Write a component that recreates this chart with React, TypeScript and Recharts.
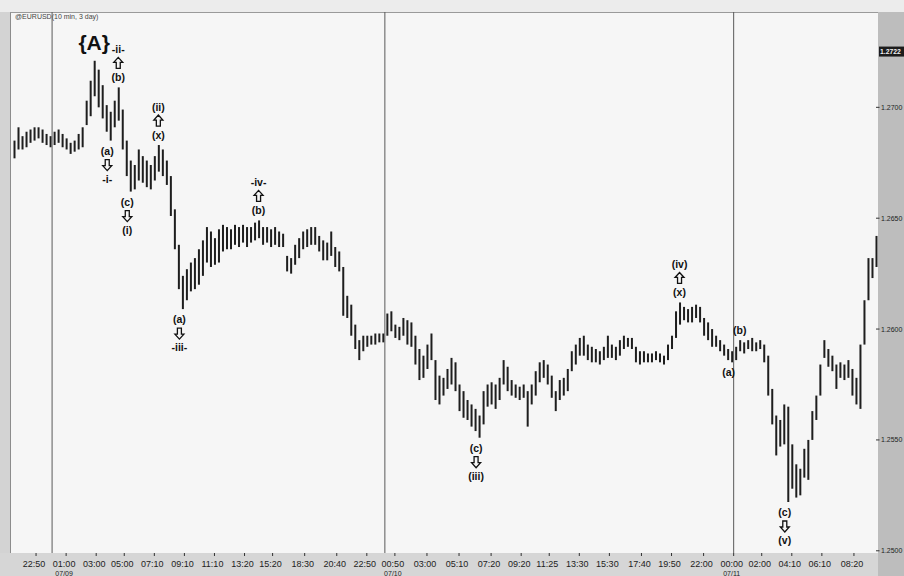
import React from 'react';
import { ComposedChart, Bar, Scatter, XAxis, YAxis, ReferenceLine } from 'recharts';

// EUR/USD 10 min, 3 day — bar highs / lows (one entry per bar)
const highs = [
  1.2685, 1.2691, 1.2687, 1.2689, 1.2690, 1.2691, 1.2691, 1.2690, 1.2688, 1.2687,
  1.2689, 1.2690, 1.2688, 1.2686, 1.2684, 1.2685, 1.2688, 1.2691, 1.2703, 1.2712,
  1.2721, 1.2717, 1.2710, 1.2701, 1.2698, 1.2703, 1.2709, 1.2699, 1.2685, 1.2676,
  1.2674, 1.2681, 1.2678, 1.2676, 1.2674, 1.2678, 1.2683, 1.2681, 1.2676, 1.2669,
  1.2654, 1.2638, 1.2624, 1.2627, 1.2630, 1.2632, 1.2636, 1.2640, 1.2646, 1.2644,
  1.2641, 1.2645, 1.2647, 1.2646, 1.2645, 1.2647, 1.2646, 1.2647, 1.2646, 1.2646,
  1.2648, 1.2649, 1.2646, 1.2646, 1.2645, 1.2646, 1.2644, 1.2643, 1.2633, 1.2632,
  1.2638, 1.2641, 1.2644, 1.2645, 1.2646, 1.2646, 1.2642, 1.2640, 1.2639, 1.2644,
  1.2637, 1.2635, 1.2628, 1.2615, 1.2611, 1.2602, 1.2595, 1.2597, 1.2597, 1.2597,
  1.2598, 1.2598, 1.2598, 1.2607, 1.2608, 1.2602, 1.2601, 1.2605, 1.2604, 1.2603,
  1.2597, 1.2591, 1.2588, 1.2593, 1.2598, 1.2586, 1.2579, 1.2578, 1.2582, 1.2587,
  1.2585, 1.2575, 1.2572, 1.2568, 1.2566, 1.2564, 1.2561, 1.2572, 1.2575, 1.2576,
  1.2575, 1.2578, 1.2586, 1.2583, 1.2577, 1.2575, 1.2574, 1.2575, 1.2572, 1.2575,
  1.2581, 1.2585, 1.2586, 1.2584, 1.2579, 1.2572, 1.2577, 1.2578, 1.2582, 1.2590,
  1.2593, 1.2596, 1.2597, 1.2593, 1.2592, 1.2591, 1.2590, 1.2592, 1.2597, 1.2593,
  1.2592, 1.2595, 1.2597, 1.2596, 1.2596, 1.2592, 1.2590, 1.2590, 1.2589, 1.2589,
  1.2590, 1.2589, 1.2588, 1.2593, 1.2597, 1.2608, 1.2612, 1.2610, 1.2609, 1.2610,
  1.2611, 1.2610, 1.2605, 1.2603, 1.2600, 1.2597, 1.2595, 1.2593, 1.2591, 1.2590,
  1.2592, 1.2595, 1.2594, 1.2595, 1.2596, 1.2594, 1.2595, 1.2593, 1.2588, 1.2573,
  1.2561, 1.2559, 1.2566, 1.2565, 1.2548, 1.2539, 1.2537, 1.2546, 1.2550, 1.2563,
  1.2570, 1.2584, 1.2595, 1.2591, 1.2588, 1.2584, 1.2585, 1.2584, 1.2586, 1.2582,
  1.2578, 1.2593, 1.2613, 1.2632, 1.2632, 1.2642,
];

const lows = [
  1.2677, 1.2681, 1.2681, 1.2682, 1.2684, 1.2685, 1.2686, 1.2684, 1.2683, 1.2682,
  1.2683, 1.2684, 1.2682, 1.2681, 1.2679, 1.2680, 1.2681, 1.2682, 1.2692, 1.2696,
  1.2705, 1.2700, 1.2695, 1.2689, 1.2685, 1.2691, 1.2694, 1.2681, 1.2669, 1.2662,
  1.2663, 1.2667, 1.2666, 1.2664, 1.2663, 1.2667, 1.2671, 1.2669, 1.2665, 1.2651,
  1.2636, 1.2618, 1.2609, 1.2613, 1.2617, 1.2618, 1.2620, 1.2624, 1.2630, 1.2628,
  1.2629, 1.2630, 1.2635, 1.2636, 1.2636, 1.2638, 1.2637, 1.2639, 1.2637, 1.2639,
  1.2640, 1.2641, 1.2638, 1.2639, 1.2637, 1.2638, 1.2637, 1.2637, 1.2626, 1.2625,
  1.2629, 1.2632, 1.2636, 1.2637, 1.2638, 1.2638, 1.2635, 1.2631, 1.2631, 1.2633,
  1.2628, 1.2626, 1.2606, 1.2605, 1.2597, 1.2591, 1.2586, 1.2590, 1.2592, 1.2593,
  1.2593, 1.2594, 1.2594, 1.2597, 1.2599, 1.2596, 1.2595, 1.2597, 1.2593, 1.2592,
  1.2584, 1.2577, 1.2578, 1.2582, 1.2586, 1.2568, 1.2566, 1.2570, 1.2573, 1.2575,
  1.2572, 1.2563, 1.2560, 1.2559, 1.2556, 1.2554, 1.2551, 1.2557, 1.2565, 1.2566,
  1.2564, 1.2568, 1.2575, 1.2572, 1.2570, 1.2569, 1.2568, 1.2569, 1.2556, 1.2566,
  1.2570, 1.2576, 1.2578, 1.2575, 1.2569, 1.2563, 1.2568, 1.2570, 1.2572, 1.2581,
  1.2584, 1.2588, 1.2588, 1.2586, 1.2585, 1.2585, 1.2584, 1.2586, 1.2587, 1.2587,
  1.2586, 1.2588, 1.2591, 1.2592, 1.2591, 1.2585, 1.2584, 1.2585, 1.2585, 1.2585,
  1.2586, 1.2585, 1.2584, 1.2586, 1.2591, 1.2596, 1.2602, 1.2604, 1.2603, 1.2603,
  1.2605, 1.2603, 1.2597, 1.2595, 1.2592, 1.2592, 1.2590, 1.2588, 1.2586, 1.2585,
  1.2586, 1.2590, 1.2589, 1.2591, 1.2590, 1.2590, 1.2591, 1.2585, 1.2570, 1.2557,
  1.2543, 1.2547, 1.2548, 1.2522, 1.2528, 1.2524, 1.2525, 1.2533, 1.2532, 1.2550,
  1.2559, 1.2570, 1.2587, 1.2583, 1.2581, 1.2573, 1.2578, 1.2577, 1.2578, 1.2570,
  1.2566, 1.2564, 1.2593, 1.2613, 1.2623, 1.2628,
];

// time axis: label and the bar it sits on
const timeLabels = [
  '22:50', '01:00', '03:00', '05:00', '07:10', '09:10', '11:10', '13:20', '15:20', '18:30',
  '20:40', '22:50', '00:50', '03:00', '05:10', '07:20', '09:20', '11:25', '13:30', '15:30',
  '17:40', '19:50', '22:00', '00:00', '02:00', '04:10', '06:10', '08:20',
];
const timeTicks = [
  5.5, 13, 20.5, 27.5, 35, 42.5, 50, 57.5, 64.5, 72.5,
  80.5, 88, 95, 103, 111, 119, 126.5, 133.5, 141, 148.5,
  156.5, 164, 172, 179.5, 186.5, 194, 201.5, 209.5,
];
const dateLabels = ['', '07/09', '', '', '', '', '', '', '', '', '', '', '07/10', '', '', '', '', '', '', '', '', '', '', '07/11', '', '', '', ''];
const sessionBreaks = [9.5, 92.5, 179.5];

const priceTicks = [1.25, 1.255, 1.26, 1.265, 1.27];
const sessionHigh = 1.2722;

// Elliott wave annotations, anchored on a bar's high (up) or low (down); '^' / 'v' are hollow arrows
const waveMarks = [
  { bar: 20, side: 'up', lines: ['{A}'], big: true },
  { bar: 26, side: 'up', lines: ['-ii-', '^', '(b)'] },
  { bar: 24, side: 'down', lines: ['(a)', 'v', '-i-'] },
  { bar: 29, side: 'down', lines: ['(c)', 'v', '(i)'] },
  { bar: 36, side: 'up', lines: ['(ii)', '^', '(x)'] },
  { bar: 42, side: 'down', lines: ['(a)', 'v', '-iii-'] },
  { bar: 61, side: 'up', lines: ['-iv-', '^', '(b)'] },
  { bar: 116, side: 'down', lines: ['(c)', 'v', '(iii)'] },
  { bar: 166, side: 'up', lines: ['(iv)', '^', '(x)'] },
  { bar: 181, side: 'up', lines: ['(b)'] },
  { bar: 179, side: 'down', lines: ['(a)'] },
  { bar: 193, side: 'down', lines: ['(c)', 'v', '(v)'] },
];

const FONT = "'Liberation Sans', Arial, 'DejaVu Sans', sans-serif";

const bars = highs.map((h, k) => ({ i: k, range: [lows[k], h] }));
const marks = waveMarks.map((m) => ({
  ...m,
  i: m.bar,
  p: m.side === 'up' ? highs[m.bar] : lows[m.bar],
}));

function OhlcBar(props: any) {
  const { x, y, width, height } = props;
  if (x == null || y == null) return null;
  const top = Math.min(y, y + height);
  const h = Math.max(Math.abs(height), 1);
  return <rect x={x + width / 2 - 1} y={top} width={2} height={h} fill="#1e1e1e" />;
}

function HollowArrow({ x, y, up }: { x: number; y: number; up: boolean }) {
  const s = up ? 1 : -1;
  const pts = [
    [0, -6], [4.5, -1], [2, -1], [2, 5], [-2, 5], [-2, -1], [-4.5, -1],
  ]
    .map(([a, b]) => `${x + a},${y + s * b}`)
    .join(' ');
  return <polygon points={pts} fill="#f6f6f6" stroke="#111" strokeWidth={1.3} strokeLinejoin="miter" />;
}

function WaveLabel(props: any) {
  const { cx, cy, payload } = props;
  if (cx == null || cy == null) return null;
  const lines: string[] = payload.lines;
  const up = payload.side === 'up';
  const dx = up ? 0 : -3;
  return (
    <g>
      {lines.map((t, k) => {
        let yy: number;
        if (payload.big) yy = cy - 18;
        else if (up) yy = cy - 10 - (lines.length - 1 - k) * 14;
        else yy = cy + 10 + k * 14;
        if (t === '^' || t === 'v') return <HollowArrow key={k} x={cx + dx} y={yy} up={t === '^'} />;
        return (
          <text
            key={k}
            x={cx + dx}
            y={yy}
            textAnchor="middle"
            dominantBaseline="central"
            fontFamily={FONT}
            fontWeight={700}
            fontSize={payload.big ? 21 : 10.5}
            fill="#111"
          >
            {t}
          </text>
        );
      })}
    </g>
  );
}

function TimeTick(props: any) {
  const { x, y, index } = props;
  return (
    <g>
      <line x1={x} x2={x} y1={y} y2={y + 3} stroke="#333" strokeWidth={1} />
      <text x={x - 2} y={y + 14} textAnchor="middle" fontSize={9} fontFamily={FONT} fill="#222">
        {timeLabels[index]}
      </text>
      {dateLabels[index] ? (
        <text x={x - 2} y={y + 22.5} textAnchor="middle" fontSize={7} fontFamily={FONT} fill="#222">
          {dateLabels[index]}
        </text>
      ) : null}
    </g>
  );
}

function PriceTick(props: any) {
  const { x, y, payload } = props;
  if (payload.value === sessionHigh) {
    return (
      <g>
        <rect x={x + 1} y={y - 12} width={26} height={10} fill="#1c1c1c" />
        <text x={x + 2} y={y - 4.5} fontSize={6.8} fontWeight={700} fontFamily={FONT} fill="#f2f2f2">
          {sessionHigh.toFixed(4)}
        </text>
      </g>
    );
  }
  return (
    <g>
      <line x1={x - 2} x2={x + 1.5} y1={y} y2={y} stroke="#333" />
      <text x={x + 3} y={y + 2.5} fontSize={7} fontFamily={FONT} fill="#222">
        {payload.value.toFixed(4)}
      </text>
    </g>
  );
}

export default function App() {
  return (
    <div style={{ position: 'absolute', left: 0, top: 0, width: 904, height: 576, overflow: 'hidden', background: '#d3d3d3' }}>
      <div style={{ position: 'absolute', left: 0, top: 0, width: 904, height: 12, background: '#ececec' }} />
      <div
        style={{
          position: 'absolute', left: 10, top: 12, width: 868, height: 541, background: '#f6f6f6',
          borderLeft: '1px solid #8c8c8c', borderTop: '1px solid #9a9a9a', boxSizing: 'border-box',
        }}
      />
      <div style={{ position: 'absolute', left: 878, top: 12, width: 26, height: 564, background: '#bdbdbd' }} />
      <div style={{ position: 'absolute', left: 0, top: 553, width: 878, height: 23, background: '#d6d6d6' }} />
      <div style={{ position: 'absolute', left: 15, top: 13, fontSize: 7, fontFamily: FONT, color: '#444', whiteSpace: 'nowrap' }}>
        @EURUSD(10 min, 3 day)
      </div>
      <div style={{ position: 'absolute', left: 0, top: 0 }}>
        <ComposedChart width={904} height={576} data={bars} margin={{ top: 12, right: 0, bottom: 0, left: 12 }}>
          <XAxis
            dataKey="i"
            type="number"
            domain={[-0.5, 215.5]}
            ticks={timeTicks}
            interval={0}
            height={23}
            tickSize={0}
            tickMargin={0}
            axisLine={false}
            tickLine={false}
            allowDataOverflow
            tick={(p: any) => <TimeTick {...p} />}
          />
          <YAxis
            orientation="right"
            type="number"
            domain={[1.2499, 1.2743]}
            ticks={[...priceTicks, sessionHigh]}
            interval={0}
            width={26}
            tickSize={0}
            tickMargin={0}
            axisLine={false}
            tickLine={false}
            allowDataOverflow
            tick={(p: any) => <PriceTick {...p} />}
          />
          {sessionBreaks.map((b) => (
            <ReferenceLine key={b} x={b} stroke="#5a5a5a" strokeWidth={1} />
          ))}
          <Bar dataKey="range" barSize={3} shape={(p: any) => <OhlcBar {...p} />} isAnimationActive={false} />
          <Scatter data={marks} dataKey="p" shape={(p: any) => <WaveLabel {...p} />} isAnimationActive={false} />
        </ComposedChart>
      </div>
    </div>
  );
}
